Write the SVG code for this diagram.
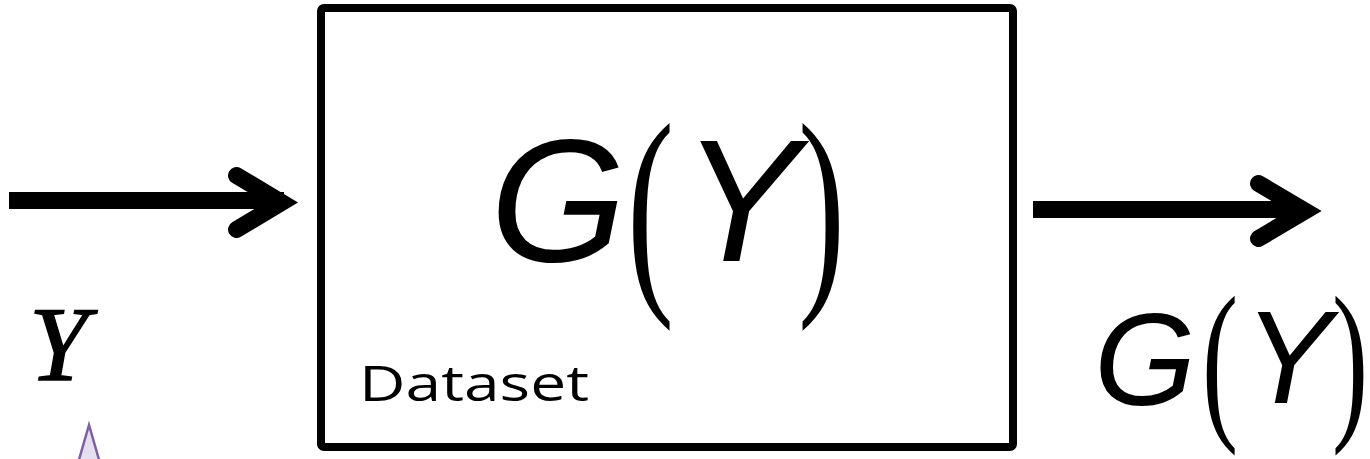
<svg xmlns="http://www.w3.org/2000/svg" width="1370" height="459" viewBox="0 0 1370 459">
  <style>
    .shaft { stroke: #000; stroke-width: 17; fill: none; stroke-linecap: butt; }
    .head { stroke: #000; stroke-width: 17; fill: none; stroke-linecap: round; stroke-linejoin: miter; stroke-miterlimit: 10; }
    .math { font-family: "Liberation Sans", Arial, sans-serif; font-style: italic; fill: #000; }
    .paren { font-family: "Liberation Serif", "Times New Roman", serif; fill: #000; }
  </style>
  <rect width="1370" height="459" fill="#fff"/>
  <g id="connectors">
    <g id="arrow-in">
      <line class="shaft" x1="9" y1="200.5" x2="284" y2="200.5"/>
      <polyline class="head" points="236.5,175.5 281.5,202.5 236.5,229.5"/>
    </g>
    <g id="arrow-out">
      <line class="shaft" x1="1033" y1="209.5" x2="1302" y2="209.5"/>
      <polyline class="head" points="1258.5,183.5 1305,211 1258.5,238.5"/>
    </g>
  </g>
  <g id="node-dataset">
    <rect x="321" y="8" width="692" height="439" rx="3" fill="#fff" stroke="#000" stroke-width="8"/>
    <text class="math" x="490" y="261" font-size="175">G</text>
    <text class="paren" transform="translate(627,281.7) scale(0.62,1)" font-size="228">(</text>
    <text class="math" x="682" y="261" font-size="175">Y</text>
    <text class="paren" transform="translate(798,281.7) scale(0.62,1)" font-size="228">)</text>
    <text x="359" y="400.7" font-family="'Open Sans', 'Noto Sans', sans-serif" font-size="49" textLength="230" lengthAdjust="spacingAndGlyphs">Dataset</text>
  </g>
  <g id="label-y">
    <text x="29" y="380" font-family="'Liberation Serif', 'Times New Roman', serif" font-style="italic" font-size="106" stroke="#000" stroke-width="1.5">Y</text>
  </g>
  <g id="label-gy">
    <text class="math" x="1094" y="405" font-size="131">G</text>
    <text class="paren" transform="translate(1202,418) scale(0.62,1)" font-size="175">(</text>
    <text class="math" x="1244" y="403" font-size="131">Y</text>
    <text class="paren" transform="translate(1332,418) scale(0.62,1)" font-size="175">)</text>
  </g>
  <g id="triangle">
    <polygon points="89,425 76,470 102,470" fill="#E6DFF0" stroke="#7D5FA8" stroke-width="2.5"/>
  </g>
</svg>
